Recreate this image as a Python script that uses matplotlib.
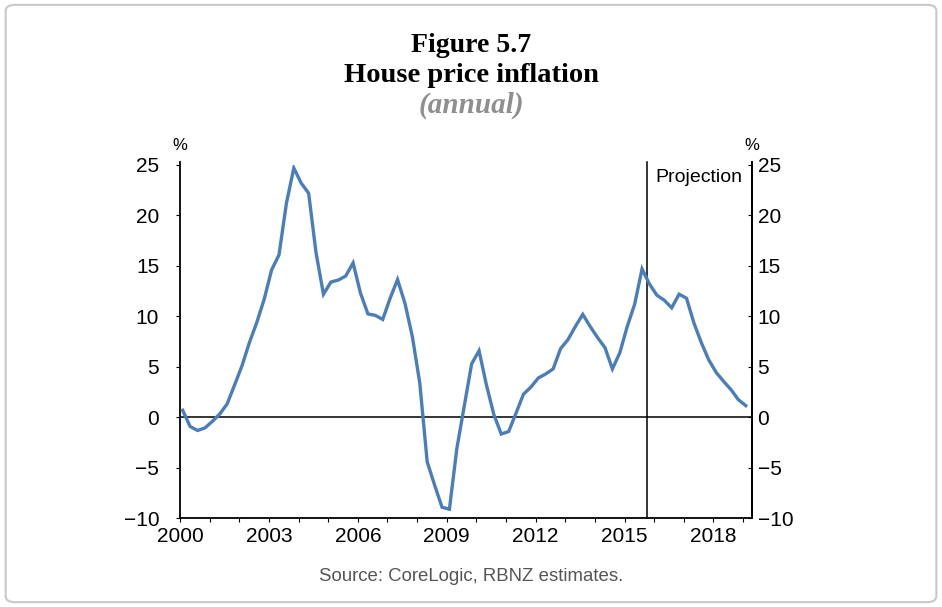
import numpy as np
import matplotlib.pyplot as plt
from matplotlib.patches import FancyBboxPatch

# quarterly annual house price inflation, 2000 Q1 onward
start = 2000.09
hpi = [0.7, -0.9, -1.3, -1.05, -0.4, 0.33, 1.33, 3.2,
       5.1, 7.4, 9.4, 11.7, 14.6, 16.1, 21.2, 24.7,
       23.2, 22.2, 16.3, 12.2, 13.4, 13.6, 14.0, 15.3,
       12.3, 10.25, 10.1, 9.7, 11.8, 13.65, 11.3, 8.0,
       3.4, -4.4, -6.7, -8.9, -9.1, -3.1, 1.1, 5.3,
       6.6, 3.2, 0.27, -1.65, -1.4, 0.43, 2.3, 3.0,
       3.9, 4.3, 4.8, 6.8, 7.7, 9.0, 10.2, 9.0,
       7.9, 6.9, 4.8, 6.4, 9.0, 11.2, 14.7, 13.2,
       12.1, 11.6, 10.85, 12.2, 11.8, 9.35, 7.4, 5.7,
       4.46, 3.57, 2.75, 1.75, 1.16]
projection_start = 2015.77
year_ticks = list(range(2000, 2020))
year_labels = [str(y) if (y - 2000) % 3 == 0 else '' for y in year_ticks]
y_ticks = [-10, -5, 0, 5, 10, 15, 20, 25]

x = start + 0.25 * np.arange(len(hpi))

plt.rcParams['font.family'] = ['Liberation Sans', 'DejaVu Sans']

fig = plt.figure(figsize=(9.42, 6.07), dpi=100, facecolor='white')

border = FancyBboxPatch((0.006, 0.008), 0.988, 0.984, boxstyle='round,pad=0,rounding_size=0.01',
                        transform=fig.transFigure, facecolor='none', edgecolor='#c8c8c8',
                        linewidth=1.5, zorder=0)
fig.patches.append(border)

ax = fig.add_axes([0.1911, 0.1461, 0.6072, 0.5821])
ax.patch.set_alpha(0)

ax.plot(x, hpi, color='#4a7ebb', lw=2.4, solid_joinstyle='miter', zorder=3)
ax.axhline(0, color='black', lw=1.1, zorder=2)
ax.axvline(projection_start, color='black', lw=1.1, ymax=1.008, clip_on=False, zorder=2)

ax.set_xlim(2000, 2019.3)
ax.set_ylim(-10, 25)
ax.spines['top'].set_visible(False)
for s in ['left', 'right', 'bottom']:
    ax.spines[s].set_linewidth(1.3)
ax.spines['left'].set_bounds(-10, 25.3)
ax.spines['right'].set_bounds(-10, 25.3)

ax.set_xticks(year_ticks)
ax.set_xticklabels(year_labels, fontsize=15)
ax.tick_params(axis='x', direction='out', length=3, pad=3)

ax.set_yticks(y_ticks)
ax.set_yticklabels([f'{v}'.replace('-', '\u2212') for v in y_ticks], fontsize=15)
ax.tick_params(axis='y', direction='out', length=3, pad=12)

ax2 = ax.twinx()
ax2.set_ylim(-10, 25)
ax2.set_yticks(y_ticks)
ax2.set_yticklabels([f'{v}'.replace('-', '\u2212') for v in y_ticks], fontsize=15)
ax2.tick_params(axis='y', direction='in', length=3, pad=4)
for s in ['left', 'top', 'bottom']:
    ax2.spines[s].set_visible(False)
ax2.spines['right'].set_linewidth(1.3)
ax2.spines['right'].set_bounds(-10, 25.3)

ax.text(0.0, 1.035, '%', transform=ax.transAxes, ha='center', va='bottom', fontsize=12)
ax.text(1.0, 1.035, '%', transform=ax.transAxes, ha='center', va='bottom', fontsize=12)
ax.text(2016.05, 23.8, 'Projection', ha='left', va='center', fontsize=14)

fig.text(0.5, 0.925, 'Figure 5.7', ha='center', va='center', fontsize=20,
         fontweight='bold', family='Liberation Serif')
fig.text(0.5, 0.876, 'House price inflation', ha='center', va='center', fontsize=20.5,
         fontweight='bold', family='Liberation Serif')
fig.text(0.5, 0.826, '(annual)', ha='center', va='center', fontsize=21,
         fontweight='bold', style='italic', family='Liberation Serif', color='#8f8f8f')
fig.text(0.5, 0.051, 'Source: CoreLogic, RBNZ estimates.', ha='center', va='center',
         fontsize=13.4, color='#555555')

fig.savefig('out.png', dpi=100)
